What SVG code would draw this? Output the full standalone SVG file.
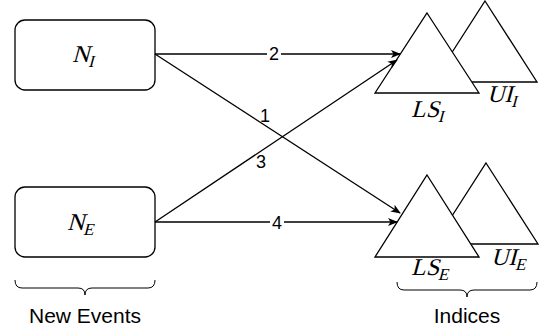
<svg xmlns="http://www.w3.org/2000/svg" width="545" height="332" viewBox="0 0 545 332">
<style>
.box{fill:#fff;stroke:#000;stroke-width:1.3}
.tri{fill:#fff;stroke:#000;stroke-width:1.3}
.edge{fill:none;stroke:#000;stroke-width:1.3}
.brace{fill:none;stroke:#000;stroke-width:1}
.math{font-family:"Liberation Serif","Times New Roman",serif;font-size:24px}
.sub{font-size:17px}
.num{font-family:"Liberation Sans",Arial,sans-serif;font-size:18px;text-anchor:middle}
.cap{font-family:"Liberation Sans",Arial,sans-serif;font-size:21px;text-anchor:middle}
</style>
<defs>
<marker id="arr" viewBox="0 0 10 10" refX="9" refY="5" markerWidth="10" markerHeight="10" markerUnits="userSpaceOnUse" orient="auto">
<path d="M0,1 L10,5 L0,9 L2.5,5 z" fill="#000"/>
</marker>
</defs>
<rect width="545" height="332" fill="#fff"/>
<g id="NI">
<rect class="box" x="15" y="20" width="140" height="70" rx="10"/>
<text class="math" transform="translate(72,62) skewX(-15)">N<tspan class="sub" dy="5">I</tspan></text>
</g>
<g id="NE">
<rect class="box" x="15" y="187" width="140" height="70" rx="10"/>
<text class="math" transform="translate(67,230) skewX(-15)">N<tspan class="sub" dy="5">E</tspan></text>
</g>
<g id="UII">
<path class="tri" d="M485,1 L537,82 L433,82 z"/>
<text class="math" transform="translate(487,102) skewX(-15)">UI<tspan class="sub" dy="5">I</tspan></text>
</g>
<g id="LSI">
<path class="tri" d="M427,13 L479,93 L375,93 z"/>
<text class="math" transform="translate(411,117) skewX(-15)">LS<tspan class="sub" dy="5">I</tspan></text>
</g>
<g id="UIE">
<path class="tri" d="M486,163 L538,244 L434,244 z"/>
<text class="math" transform="translate(491,265) skewX(-15)">UI<tspan class="sub" dy="5">E</tspan></text>
</g>
<g id="LSE">
<path class="tri" d="M427,175 L479,257 L375,257 z"/>
<text class="math" transform="translate(411,275) skewX(-15)">LS<tspan class="sub" dy="5">E</tspan></text>
</g>
<g id="connectors">
<line class="edge" x1="155" y1="54" x2="400" y2="54" marker-end="url(#arr)"/>
<line class="edge" x1="155" y1="54" x2="400" y2="213" marker-end="url(#arr)"/>
<line class="edge" x1="155" y1="222" x2="397" y2="60" marker-end="url(#arr)"/>
<line class="edge" x1="155" y1="222" x2="397" y2="222" marker-end="url(#arr)"/>
<rect x="267" y="45" width="14" height="16" fill="#fff"/>
<text class="num" x="274" y="60">2</text>
<text class="num" x="265" y="122">1</text>
<text class="num" x="261" y="168">3</text>
<rect x="270" y="213" width="14" height="18" fill="#fff"/>
<text class="num" x="277" y="229">4</text>
</g>
<g id="new-events">
<path class="brace" d="M15,280 Q15,288 22,288 L78,288 Q85,288 85,295 Q85,288 92,288 L148,288 Q155,288 155,280"/>
<text class="cap" x="85" y="323">New Events</text>
</g>
<g id="indices">
<path class="brace" d="M397,282 Q397,290 404,290 L460,290 Q467,290 467,297 Q467,290 474,290 L530,290 Q537,290 537,282"/>
<text class="cap" x="467" y="323">Indices</text>
</g>
</svg>
